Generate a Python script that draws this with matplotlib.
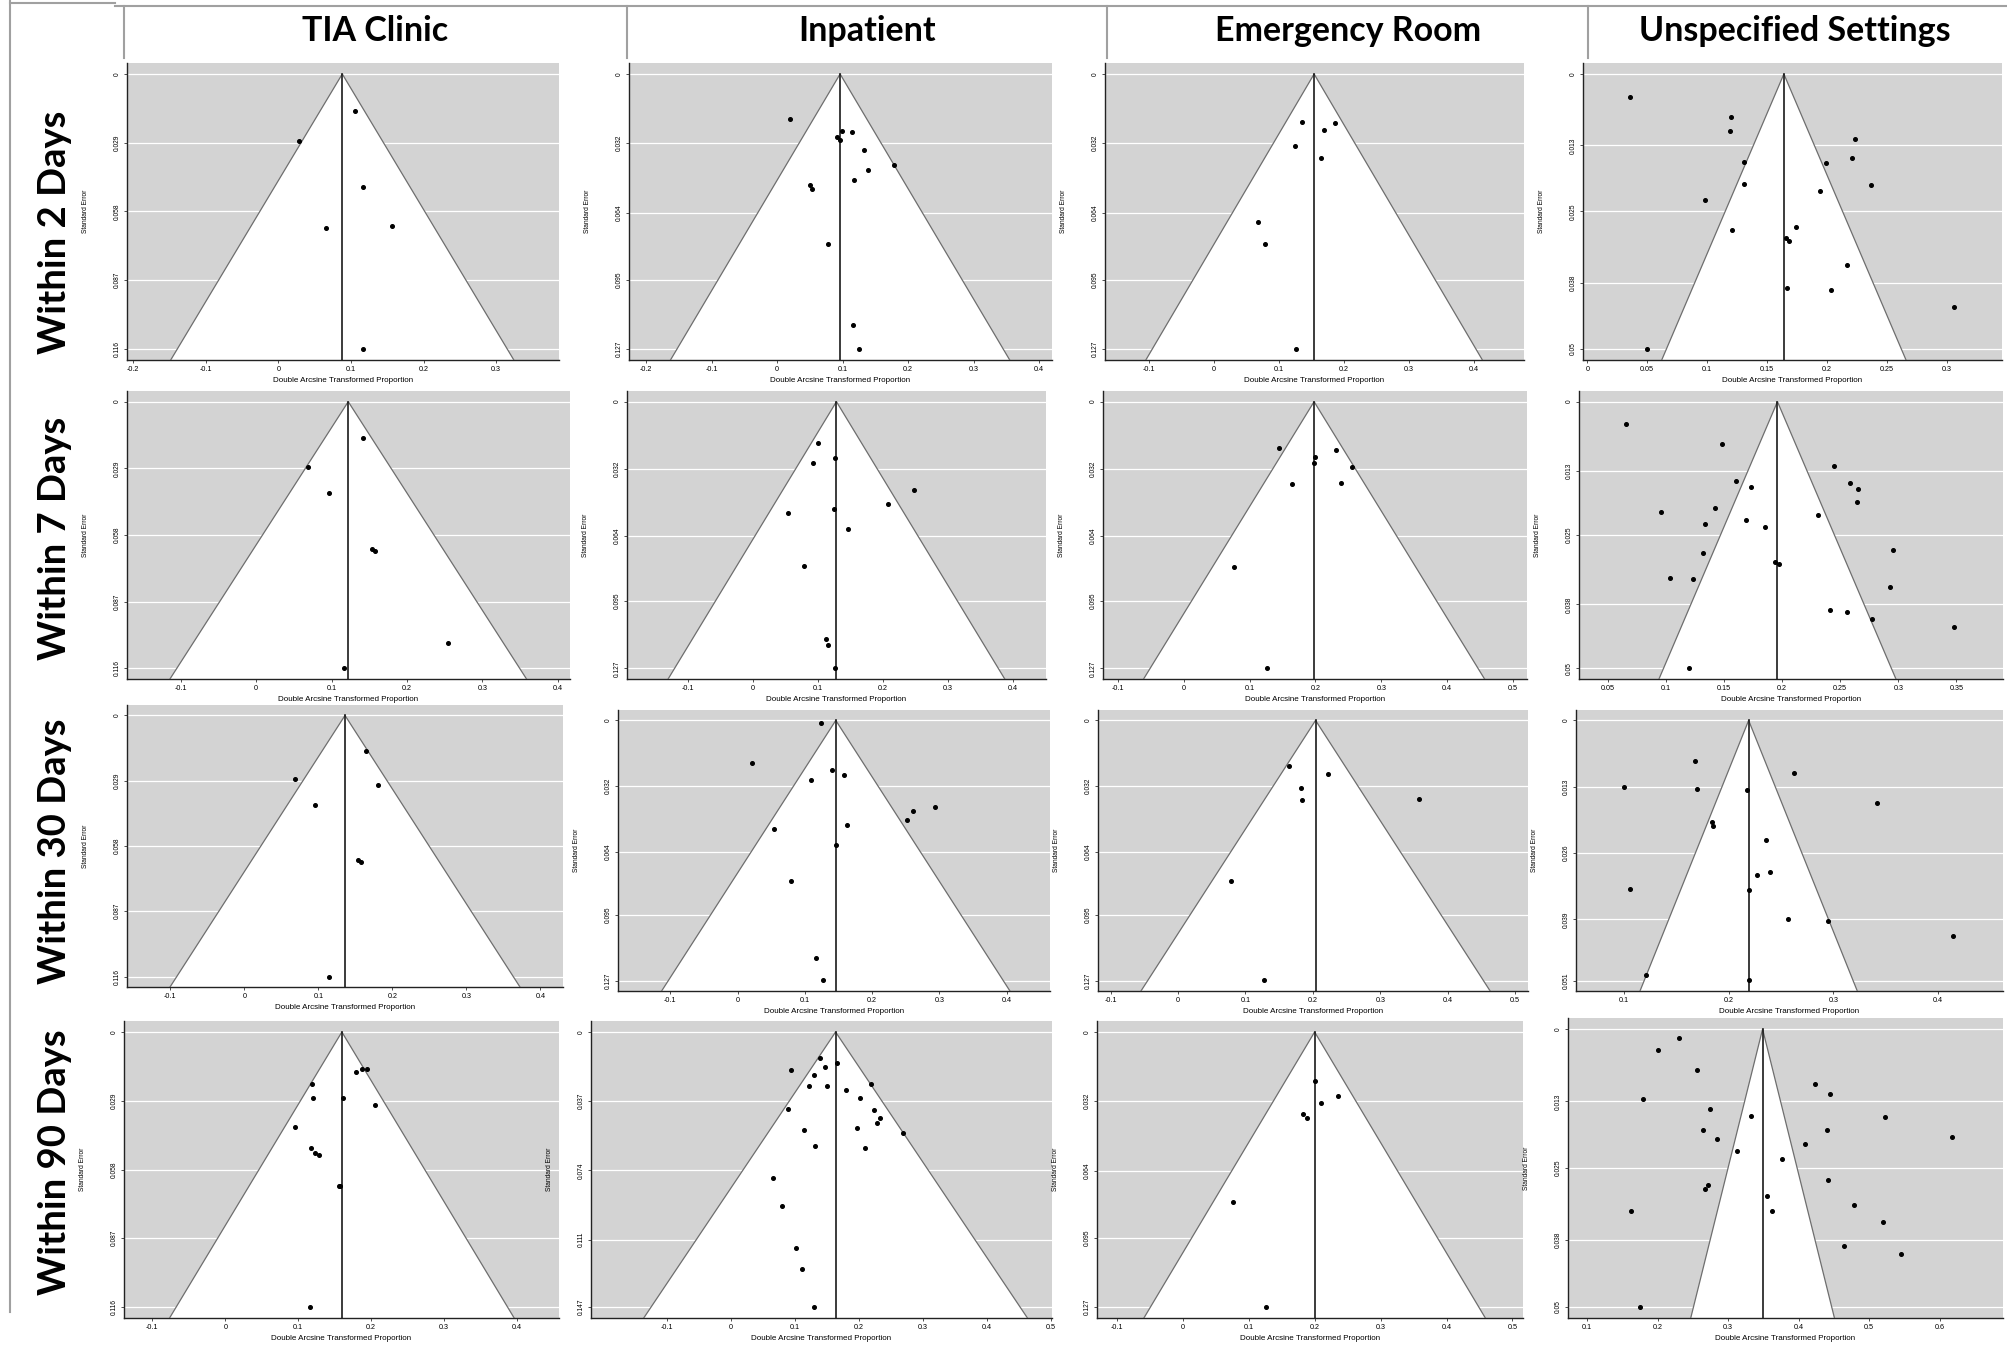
import matplotlib
matplotlib.use("Agg")
import matplotlib.pyplot as plt
from matplotlib.lines import Line2D

W, H = 2007, 1350
fig = plt.figure(figsize=(W / 100, H / 100), dpi=100)

columns = ["TIA Clinic", "Inpatient", "Emergency Room", "Unspecified Settings"]
rows = ["Within 2 Days", "Within 7 Days", "Within 30 Days", "Within 90 Days"]

# ---------------- data: (transformed proportion, standard error) ----------------
# Within 2 days
tia_2d_x = [0.105, 0.029, 0.117, 0.066, 0.156, 0.117]
tia_2d_se = [0.0158, 0.0283, 0.0478, 0.0651, 0.0640, 0.1160]
tia_2d_center = 0.088
inp_2d_x = [0.020, 0.099, 0.114, 0.091, 0.096, 0.132, 0.179, 0.139, 0.117, 0.050, 0.053, 0.077, 0.115, 0.125]
inp_2d_se = [0.0208, 0.0263, 0.0268, 0.0291, 0.0306, 0.0351, 0.0422, 0.0442, 0.0488, 0.0513, 0.0533, 0.0785, 0.1161, 0.1270]
inp_2d_center = 0.096
er_2d_x = [0.136, 0.186, 0.169, 0.124, 0.165, 0.067, 0.078, 0.126]
er_2d_se = [0.0222, 0.0226, 0.0260, 0.0333, 0.0388, 0.0682, 0.0785, 0.1270]
er_2d_center = 0.154
uns_2d_x = [0.036, 0.120, 0.119, 0.223, 0.221, 0.131, 0.199, 0.131, 0.237, 0.194,
            0.098, 0.174, 0.121, 0.166, 0.168, 0.217, 0.167, 0.203, 0.306, 0.050]
uns_2d_se = [0.0041, 0.0079, 0.0103, 0.0119, 0.0152, 0.0160, 0.0162, 0.0200, 0.0202, 0.0212,
             0.0230, 0.0279, 0.0283, 0.0299, 0.0304, 0.0348, 0.0390, 0.0393, 0.0423, 0.0500]
uns_2d_center = 0.164

# Within 7 days
tia_7d_x = [0.142, 0.069, 0.096, 0.154, 0.157, 0.254, 0.116]
tia_7d_se = [0.0158, 0.0283, 0.0397, 0.0640, 0.0650, 0.1050, 0.1159]
tia_7d_center = 0.122
inp_7d_x = [0.101, 0.127, 0.093, 0.249, 0.208, 0.125, 0.054, 0.147, 0.079, 0.113, 0.116, 0.127]
inp_7d_se = [0.0199, 0.0269, 0.0293, 0.0422, 0.0489, 0.0512, 0.0531, 0.0607, 0.0784, 0.1131, 0.1159, 0.1268]
inp_7d_center = 0.129
er_7d_x = [0.144, 0.231, 0.199, 0.198, 0.255, 0.164, 0.239, 0.077, 0.126]
er_7d_se = [0.0223, 0.0229, 0.0263, 0.0293, 0.0310, 0.0391, 0.0389, 0.0786, 0.1270]
er_7d_center = 0.198
uns_7d_x = [0.066, 0.148, 0.245, 0.160, 0.258, 0.265, 0.173, 0.264, 0.142, 0.096, 0.231, 0.169, 0.134,
            0.185, 0.295, 0.132, 0.194, 0.197, 0.104, 0.123, 0.293, 0.241, 0.256, 0.277, 0.348, 0.120]
uns_7d_se = [0.0041, 0.0080, 0.0120, 0.0148, 0.0152, 0.0163, 0.0160, 0.0188, 0.0200, 0.0206, 0.0212, 0.0222, 0.0230,
             0.0235, 0.0279, 0.0283, 0.0300, 0.0304, 0.0331, 0.0333, 0.0347, 0.0390, 0.0394, 0.0407, 0.0423, 0.0499]
uns_7d_center = 0.196

# Within 30 days
tia_30d_x = [0.164, 0.068, 0.181, 0.096, 0.154, 0.157, 0.115]
tia_30d_se = [0.0157, 0.0284, 0.0310, 0.0398, 0.0641, 0.0652, 0.1160]
tia_30d_center = 0.136
inp_30d_x = [0.124, 0.021, 0.141, 0.158, 0.109, 0.293, 0.261, 0.252, 0.162, 0.054, 0.147, 0.079, 0.116, 0.127]
inp_30d_se = [0.0015, 0.0209, 0.0240, 0.0267, 0.0292, 0.0421, 0.0442, 0.0488, 0.0512, 0.0531, 0.0606, 0.0784, 0.1158, 0.1268]
inp_30d_center = 0.146
er_30d_x = [0.164, 0.222, 0.183, 0.184, 0.358, 0.078, 0.127]
er_30d_se = [0.0222, 0.0261, 0.0330, 0.0387, 0.0386, 0.0784, 0.1268]
er_30d_center = 0.204
uns_30d_x = [0.168, 0.262, 0.100, 0.170, 0.217, 0.342, 0.184, 0.185, 0.236, 0.239, 0.227, 0.105, 0.219,
             0.257, 0.295, 0.415, 0.121, 0.219]
uns_30d_se = [0.0079, 0.0103, 0.0130, 0.0135, 0.0136, 0.0162, 0.0200, 0.0206, 0.0234, 0.0298, 0.0304, 0.0330, 0.0332,
              0.0390, 0.0393, 0.0422, 0.0499, 0.0509]
uns_30d_center = 0.219

# Within 90 days
tia_90d_x = [0.179, 0.188, 0.195, 0.119, 0.121, 0.161, 0.205, 0.096, 0.118, 0.123, 0.128, 0.156, 0.158, 0.116]
tia_90d_se = [0.0170, 0.0157, 0.0157, 0.0220, 0.0280, 0.0280, 0.0310, 0.0400, 0.0490, 0.0510, 0.0520, 0.0650, 0.0650, 0.1160]
tia_90d_center = 0.160
inp_90d_x = [0.140, 0.094, 0.130, 0.148, 0.166, 0.122, 0.150, 0.180, 0.220, 0.090, 0.202, 0.224, 0.234, 0.228,
             0.198, 0.270, 0.114, 0.132, 0.210, 0.066, 0.080, 0.102, 0.112, 0.130]
inp_90d_se = [0.0137, 0.0205, 0.0232, 0.0185, 0.0164, 0.0287, 0.0287, 0.0308, 0.0280, 0.0410, 0.0355, 0.0417, 0.0458, 0.0485,
              0.0513, 0.0540, 0.0526, 0.0608, 0.0622, 0.0780, 0.0930, 0.1155, 0.1265, 0.1470]
inp_90d_center = 0.164
er_90d_x = [0.200, 0.210, 0.235, 0.183, 0.188, 0.076, 0.126]
er_90d_se = [0.0224, 0.0330, 0.0295, 0.0380, 0.0396, 0.0786, 0.1270]
er_90d_center = 0.200
uns_90d_x = [0.162, 0.175, 0.180, 0.200, 0.231, 0.256, 0.264, 0.275, 0.284, 0.267, 0.271, 0.313, 0.333, 0.355,
             0.362, 0.376, 0.424, 0.445, 0.440, 0.409, 0.522, 0.618, 0.442, 0.478, 0.465, 0.520, 0.545]
uns_90d_se = [0.0328, 0.0500, 0.0126, 0.0037, 0.0016, 0.0074, 0.0181, 0.0144, 0.0198, 0.0288, 0.0281, 0.0219, 0.0156, 0.0300,
              0.0328, 0.0233, 0.0098, 0.0116, 0.0181, 0.0207, 0.0158, 0.0195, 0.0272, 0.0316, 0.0391, 0.0347, 0.0405]
uns_90d_center = 0.349

# y-axis (standard error) tick labels per panel
se_ticks_tia = ["0", "0.029", "0.058", "0.087", "0.116"]
se_ticks_127 = ["0", "0.032", "0.064", "0.095", "0.127"]
se_ticks_uns = ["0", "0.013", "0.025", "0.038", "0.05"]
se_ticks_uns30 = ["0", "0.013", "0.026", "0.039", "0.051"]
se_ticks_inp90 = ["0", "0.037", "0.074", "0.111", "0.147"]

# x-axis tick labels
xt_a = ["-0.2", "-0.1", "0", "0.1", "0.2", "0.3"]
xt_b = ["-0.2", "-0.1", "0", "0.1", "0.2", "0.3", "0.4"]
xt_c = ["-0.1", "0", "0.1", "0.2", "0.3", "0.4"]
xt_d = ["-0.1", "0", "0.1", "0.2", "0.3", "0.4", "0.5"]
xt_u2 = ["0", "0.05", "0.1", "0.15", "0.2", "0.25", "0.3"]
xt_u7 = ["0.05", "0.1", "0.15", "0.2", "0.25", "0.3", "0.35"]
xt_u30 = ["0.1", "0.2", "0.3", "0.4"]
xt_u90 = ["0.1", "0.2", "0.3", "0.4", "0.5", "0.6"]

panels = [
    # row, col, x, se, center, yticks, xticks, xlim, rect(px: left, top, right, bottom)
    (0, 0, tia_2d_x, tia_2d_se, tia_2d_center, se_ticks_tia, xt_a, (-0.2087, 0.3867), (127, 63, 559, 360)),
    (0, 1, inp_2d_x, inp_2d_se, inp_2d_center, se_ticks_127, xt_b, (-0.2262, 0.4194), (629, 63, 1052, 360)),
    (0, 2, er_2d_x, er_2d_se, er_2d_center, se_ticks_127, xt_c, (-0.1677, 0.4769), (1105, 63, 1524, 360)),
    (0, 3, uns_2d_x, uns_2d_se, uns_2d_center, se_ticks_uns, xt_u2, (-0.0036, 0.346), (1583, 63, 2002, 360)),
    (1, 0, tia_7d_x, tia_7d_se, tia_7d_center, se_ticks_tia, xt_c, (-0.1714, 0.4161), (127, 391, 570, 679)),
    (1, 1, inp_7d_x, inp_7d_se, inp_7d_center, se_ticks_127, xt_c, (-0.1931, 0.4513), (627, 391, 1046, 679)),
    (1, 2, er_7d_x, er_7d_se, er_7d_center, se_ticks_127, xt_d, (-0.1225, 0.5213), (1103, 391, 1527, 679)),
    (1, 3, uns_7d_x, uns_7d_se, uns_7d_center, se_ticks_uns, xt_u7, (0.0253, 0.390), (1579, 391, 2003, 679)),
    (2, 0, tia_30d_x, tia_30d_se, tia_30d_center, se_ticks_tia, xt_c, (-0.1586, 0.4306), (127, 705, 563, 987)),
    (2, 1, inp_30d_x, inp_30d_se, inp_30d_center, se_ticks_127, xt_c, (-0.1777, 0.4644), (618, 710, 1050, 991)),
    (2, 2, er_30d_x, er_30d_se, er_30d_center, se_ticks_127, xt_d, (-0.1186, 0.519), (1098, 710, 1528, 991)),
    (2, 3, uns_30d_x, uns_30d_se, uns_30d_center, se_ticks_uns30, xt_u30, (0.0538, 0.4624), (1576, 710, 2003, 991)),
    (3, 0, tia_90d_x, tia_90d_se, tia_90d_center, se_ticks_tia, xt_c, (-0.139, 0.458), (124, 1021, 559, 1318)),
    (3, 1, inp_90d_x, inp_90d_se, inp_90d_center, se_ticks_inp90, xt_d, (-0.218, 0.502), (591, 1021, 1052, 1318)),
    (3, 2, er_90d_x, er_90d_se, er_90d_center, se_ticks_127, xt_d, (-0.13, 0.516), (1097, 1021, 1523, 1318)),
    (3, 3, uns_90d_x, uns_90d_se, uns_90d_center, se_ticks_uns, xt_u90, (0.073, 0.69), (1568, 1018, 2003, 1318)),
]


def rect(l, t, r, b):
    return [l / W, 1 - b / H, (r - l) / W, (b - t) / H]


for (ri, ci, xs, ses, c, ytl, xtl, xlim, box) in panels:
    ax = fig.add_axes(rect(*box))
    ax.set_facecolor("#D3D3D3")
    yt = [float(v) for v in ytl]
    smax = yt[-1]
    pad = 0.04 * smax
    ax.set_ylim(smax + pad, -pad)
    ax.set_xlim(*xlim)
    for t in yt:
        ax.axhline(t, color="white", lw=0.9, zorder=1)
    sb = smax * 2.0
    ax.fill([c - 1.96 * sb, c, c + 1.96 * sb], [sb, 0, sb], color="white", zorder=2, lw=0)
    ax.plot([c - 1.96 * sb, c, c + 1.96 * sb], [sb, 0, sb], color="#6e6e6e", lw=0.9, zorder=3)
    ax.plot([c, c], [0, smax + pad], color="#1a1a1a", lw=1.2, zorder=3)
    ax.plot(xs, ses, "o", ms=2.6, color="black", zorder=4)
    for s in ["top", "right"]:
        ax.spines[s].set_visible(False)
    for s in ["left", "bottom"]:
        ax.spines[s].set_color("#222222")
        ax.spines[s].set_linewidth(1.0)
    ax.set_yticks(yt)
    ax.set_yticklabels(ytl, rotation=90, va="center", fontsize=4.8, family="Liberation Sans")
    xv = [float(v) for v in xtl]
    ax.set_xticks(xv)
    ax.set_xticklabels(xtl, fontsize=5.2, family="Liberation Sans")
    ax.tick_params(axis="both", length=2.5, width=0.6, pad=2, color="#333333")
    ax.set_xlabel("Double Arcsine Transformed Proportion", fontsize=5.8, family="Liberation Sans", labelpad=3)
    ax.set_ylabel("Standard Error", fontsize=4.8, family="Liberation Sans", labelpad=18)

# header texts
head_x = [375, 867, 1348, 1795]
for name, hx in zip(columns, head_x):
    fig.text(hx / W, 1 - 31 / H, name, ha="center", va="center", fontsize=24.5,
             fontweight="bold", family="Lato")

row_y = [232, 538, 851, 1162]
for name, ry in zip(rows, row_y):
    fig.text(55 / W, 1 - ry / H, name, ha="center", va="center", rotation=90, fontsize=27.5,
             fontweight="bold", family="Lato")

# frame lines
gray = "#a0a0a0"
def fline(x0, y0, x1, y1, lw=1.5):
    fig.add_artist(Line2D([x0 / W, x1 / W], [1 - y0 / H, 1 - y1 / H], color=gray, lw=lw))

fline(115, 6, 2007, 6)
for vx in [124, 627, 1107, 1588]:
    fline(vx, 6, vx, 58)
fline(10, 3, 115, 3)
fline(10, 0, 10, 1312)

fig.savefig("out.png", dpi=100, facecolor="white")
